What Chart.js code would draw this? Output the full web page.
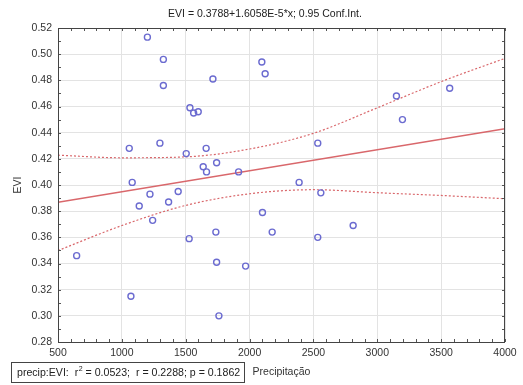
<!DOCTYPE html>
<html><head><meta charset="utf-8">
<script src="https://cdn.jsdelivr.net/npm/chart.js@4"></script>
<style>html,body{margin:0;padding:0;background:#fff;}</style>
</head><body>
<canvas id="c" width="523" height="385"></canvas>
<script>
// Observed points: precipitation (x) and EVI (y)
const precip = [1200, 1325, 1325, 1533, 1562, 1598, 1713, 2096, 2122, 1058,
                1298, 1504, 1660, 1637, 1742, 1663, 1914, 1081, 1220, 1136,
                1441, 1366, 1241, 1736, 1527, 646, 1742, 1969, 2101, 2177,
                1071, 1760, 3150, 3567, 3197, 2534, 2388, 2558, 2811, 2534];
const evi = [0.513, 0.496, 0.476, 0.459, 0.455, 0.456, 0.481, 0.494, 0.485, 0.428,
             0.432, 0.424, 0.428, 0.414, 0.417, 0.410, 0.410, 0.402, 0.393, 0.384,
             0.395, 0.387, 0.373, 0.364, 0.359, 0.346, 0.341, 0.338, 0.379, 0.364,
             0.315, 0.300, 0.468, 0.474, 0.450, 0.432, 0.402, 0.394, 0.369, 0.360];
// Fitted line endpoints
const fitX = [500, 4000];
const fitY = [0.3868, 0.4430];
// 0.95 confidence band
const bandX = [500, 1000, 1500, 2000, 2500, 3000, 3500, 4000];
const bandUpper = [0.4228, 0.4208, 0.4215, 0.4275, 0.4395, 0.4590, 0.4790, 0.4968];
const bandLower = [0.3499, 0.3690, 0.3844, 0.3933, 0.3964, 0.3941, 0.3920, 0.3895];
// Tick labels
const xTicks = [500, 1000, 1500, 2000, 2500, 3000, 3500, 4000];
const yTicks = [0.28, 0.30, 0.32, 0.34, 0.36, 0.38, 0.40, 0.42, 0.44, 0.46, 0.48, 0.50, 0.52];
const titleText = 'EVI = 0.3788+1.6058E-5*x; 0.95 Conf.Int.';
const statsPre = 'precip:EVI:  r';
const statsSup = '2';
const statsPost = ' = 0.0523;  r = 0.2288; p = 0.1862';
const xTitle = 'Precipitação';
const yTitle = 'EVI';

const FONT = 'Arial, "Liberation Sans", sans-serif';
const pts = precip.map((x, i) => ({x: x, y: evi[i]}));
const fit = fitX.map((x, i) => ({x: x, y: fitY[i]}));
const up = bandX.map((x, i) => ({x: x, y: bandUpper[i]}));
const lo = bandX.map((x, i) => ({x: x, y: bandLower[i]}));

const decor = {
  id: 'decor',
  afterDraw(chart) {
    const ctx = chart.ctx;
    const a = chart.chartArea;
    const xs = chart.scales.x, ys = chart.scales.y;
    ctx.save();
    ctx.strokeStyle = '#555';
    ctx.lineWidth = 1;
    // minor/major ticks pointing inward
    ctx.beginPath();
    for (let v = 500; v <= 4000; v += 100) {
      const px = Math.round(xs.getPixelForValue(v)) + 0.5;
      ctx.moveTo(px, a.top); ctx.lineTo(px, a.top + 3);
      ctx.moveTo(px, a.bottom); ctx.lineTo(px, a.bottom - 3);
    }
    for (let k = 28; k <= 52; k++) {
      const py = Math.round(ys.getPixelForValue(k / 100)) + 0.5;
      ctx.moveTo(a.left, py); ctx.lineTo(a.left + 3, py);
      ctx.moveTo(a.right, py); ctx.lineTo(a.right - 3, py);
    }
    ctx.stroke();
    ctx.strokeStyle = '#444';
    ctx.strokeRect(Math.round(a.left) + 0.5, Math.round(a.top) + 0.5,
                   Math.round(a.right - a.left) - 1, Math.round(a.bottom - a.top));
    // title
    ctx.fillStyle = '#222';
    ctx.font = '10.5px ' + FONT;
    ctx.textAlign = 'center';
    ctx.textBaseline = 'middle';
    ctx.fillText(titleText, 265, 14);
    // stats box
    ctx.textAlign = 'left';
    ctx.font = '10.6px ' + FONT;
    let x0 = 17, y0 = 373;
    ctx.fillText(statsPre, x0, y0);
    x0 += ctx.measureText(statsPre).width;
    ctx.font = '7px ' + FONT;
    ctx.fillText(statsSup, x0 + 0.5, y0 - 4);
    x0 += ctx.measureText(statsSup).width + 0.5;
    ctx.font = '10.6px ' + FONT;
    ctx.fillText(statsPost, x0, y0);
    x0 += ctx.measureText(statsPost).width;
    ctx.strokeStyle = '#444';
    ctx.strokeRect(11.5, 362.5, Math.round(x0 - 11 + 4), 20);
    ctx.restore();
  }
};

new Chart(document.getElementById('c'), {
  type: 'scatter',
  data: {
    datasets: [
      {data: pts, showLine: false, pointRadius: 3, pointBorderWidth: 1.4,
       pointBorderColor: '#6b6bd0', pointBackgroundColor: 'rgba(0,0,0,0)', order: 0},
      {data: fit, showLine: true, pointRadius: 0, borderColor: '#d9676b',
       borderWidth: 1.4, order: 1},
      {data: up, showLine: true, pointRadius: 0, borderColor: '#d9676b',
       borderWidth: 1.2, borderDash: [2, 2], cubicInterpolationMode: 'monotone', order: 2},
      {data: lo, showLine: true, pointRadius: 0, borderColor: '#d9676b',
       borderWidth: 1.2, borderDash: [2, 2], cubicInterpolationMode: 'monotone', order: 2}
    ]
  },
  options: {
    responsive: false,
    animation: false,
    devicePixelRatio: 1,
    layout: {padding: {top: 28, right: 18, left: 0, bottom: 0}},
    plugins: {legend: {display: false}, tooltip: {enabled: false}, title: {display: false}},
    scales: {
      x: {
        type: 'linear', min: 500, max: 4000,
        afterBuildTicks: s => { s.ticks = xTicks.map(v => ({value: v})); },
        afterFit: s => { s.height = 43; },
        ticks: {font: {size: 10.5, family: FONT}, color: '#333', padding: 5,
                callback: v => String(v), maxRotation: 0},
        grid: {color: '#e3e3e3', drawTicks: false},
        border: {display: false},
        title: {display: true, text: xTitle, font: {size: 10.5, family: FONT}, color: '#333',
                padding: {top: 0, bottom: 7}}
      },
      y: {
        min: 0.28, max: 0.52,
        afterBuildTicks: s => { s.ticks = yTicks.map(v => ({value: v})); },
        afterFit: s => { s.width = 58; },
        ticks: {font: {size: 10.5, family: FONT}, color: '#333', padding: 6,
                callback: v => v.toFixed(2)},
        grid: {color: '#e3e3e3', drawTicks: false},
        border: {display: false},
        title: {display: true, text: yTitle, font: {size: 10.5, family: FONT}, color: '#333',
                padding: {top: 12, bottom: 0}}
      }
    }
  },
  plugins: [decor]
});
</script>
</body></html>
